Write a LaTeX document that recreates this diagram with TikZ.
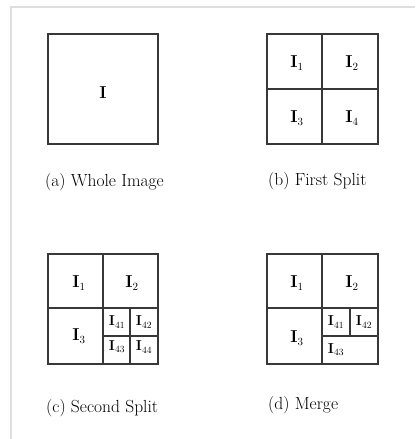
\documentclass[tikz,border=0pt]{standalone}
\newcommand{\lbl}[1]{$\mathbf{I}_{\mbox{\fontsize{9.5}{10}\selectfont #1}}$}
\begin{document}
\begin{tikzpicture}[x=1pt,y=-1pt,
  frame/.style={draw=black!13,line width=1.5pt},
  box/.style={draw=black!78,line width=1.3pt},
  cell/.style={inner sep=0pt,font=\fontsize{16}{18}\selectfont},
  small/.style={inner sep=0pt,font=\fontsize{14}{16}\selectfont},
  captext/.style={inner sep=0pt,anchor=west,font=\fontsize{17.5}{20}\selectfont}]
\useasboundingbox (0,0) rectangle (415,439);
\draw[frame] (11,439) -- (11,7) -- (415,7);
% (a)
\draw[box] (48,34) rectangle (158,144);
\node[cell] (ia) at (103,93) {$\mathbf{I}$};
\node[captext] (ca) at (45,182) {(a) Whole Image};
% (b)
\draw[box] (267,34) rectangle (378,144);
\draw[box] (322,34) -- (322,144) (267,89) -- (378,89);
\node[cell] (b1) at (297,63) {$\mathbf{I}_1$};
\node[cell] (b2) at (352,63) {$\mathbf{I}_2$};
\node[cell] (b3) at (297,118) {$\mathbf{I}_3$};
\node[cell] (b4) at (352,118) {$\mathbf{I}_4$};
\node[captext] (cb) at (268,181) {(b) First Split};
% (c)
\draw[box] (48,254) rectangle (158,364);
\draw[box] (103,254) -- (103,364) (48,308) -- (158,308);
\draw[box] (130,308) -- (130,364) (103,336) -- (158,336);
\node[cell] (c1) at (79,283) {$\mathbf{I}_1$};
\node[cell] (c2) at (132,283) {$\mathbf{I}_2$};
\node[cell] (c3) at (79,336) {$\mathbf{I}_3$};
\node[small] (c41) at (117,322) {\lbl{41}};
\node[small] (c42) at (144,322) {\lbl{42}};
\node[small] (c43) at (117,347) {\lbl{43}};
\node[small] (c44) at (144,347) {\lbl{44}};
\node[captext] (cc) at (46,408) {(c) Second Split};
% (d)
\draw[box] (267,254) rectangle (378,364);
\draw[box] (322,254) -- (322,364) (267,308) -- (378,308);
\draw[box] (350,308) -- (350,336) (322,336) -- (378,336);
\node[cell] (d1) at (297,283) {$\mathbf{I}_1$};
\node[cell] (d2) at (352,283) {$\mathbf{I}_2$};
\node[cell] (d3) at (297,338) {$\mathbf{I}_3$};
\node[small] (d41) at (336,322) {\lbl{41}};
\node[small] (d42) at (364,322) {\lbl{42}};
\node[small] (d43) at (336,350) {\lbl{43}};
\node[captext] (cd) at (268,405) {(d) Merge};
\end{tikzpicture}
\end{document}
